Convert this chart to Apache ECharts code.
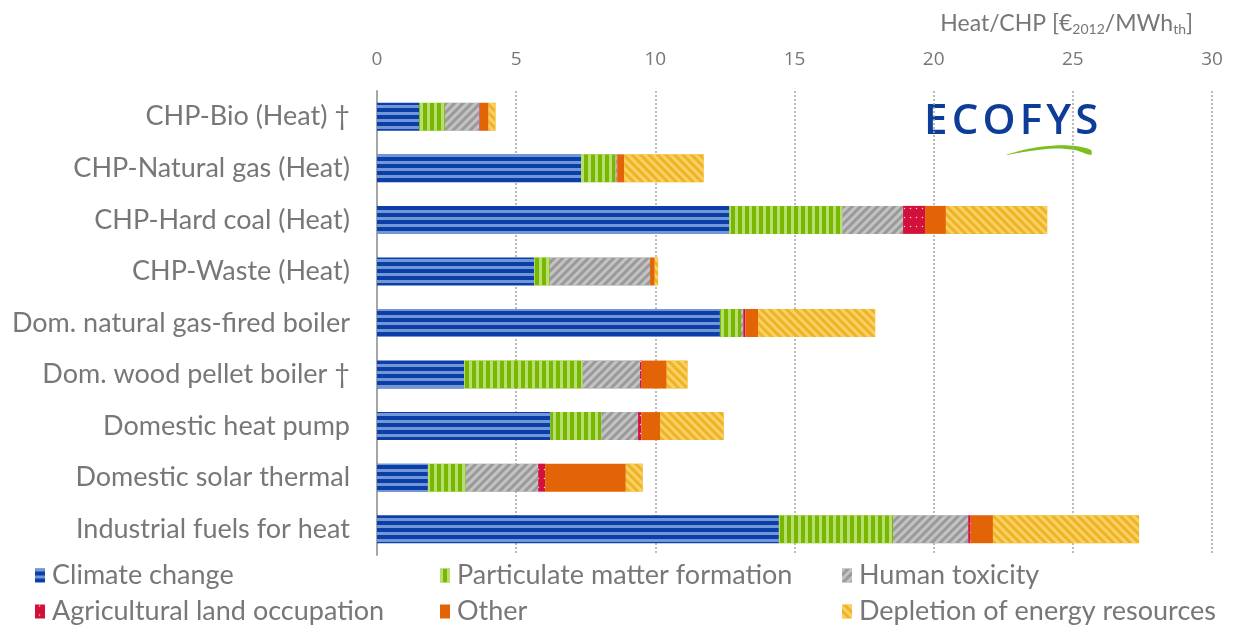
<!DOCTYPE html>
<html><head><meta charset="utf-8">
<script src="https://cdn.jsdelivr.net/npm/echarts@6/dist/echarts.min.js"></script>
<style>html,body{margin:0;padding:0;background:#fff}#c{width:1238px;height:628px}</style>
</head><body><div id="c"></div>
<script>
const categories = ['CHP-Bio (Heat) †','CHP-Natural gas (Heat)','CHP-Hard coal (Heat)','CHP-Waste (Heat)','Dom. natural gas-fired boiler','Dom. wood pellet boiler †','Domestic heat pump','Domestic solar thermal','Industrial fuels for heat'];
const climateChange = [1.51,7.33,12.66,5.65,12.32,3.13,6.23,1.83,14.44];
const particulate   = [0.93,1.24,4.06,0.56,0.76,4.26,1.83,1.36,4.10];
const humanTox      = [1.24,0.05,2.18,3.60,0.08,2.06,1.32,2.60,2.70];
const agriLand      = [0.02,0.01,0.79,0.00,0.08,0.06,0.12,0.25,0.09];
const other         = [0.31,0.25,0.75,0.17,0.45,0.90,0.67,2.90,0.80];
const depletion     = [0.25,2.86,3.64,0.12,4.21,0.75,2.29,0.61,5.25];
const seriesNames = ['Climate change','Particulate matter formation','Human toxicity','Agricultural land occupation','Other','Depletion of energy resources'];
const xTicks = [0,5,10,15,20,25,30];

const FONT = 'Lato';
const TXT = '#777777';
const styles = [
  {color:'#0a3fa8', decal:{symbol:'rect', dashArrayX:[1,0], dashArrayY:[3,4], color:'rgba(150,180,230,0.75)', rotation:0}},
  {color:'#78b800', decal:{symbol:'rect', dashArrayX:[3,4], dashArrayY:[1,0], color:'rgba(200,230,140,0.8)', rotation:0}},
  {color:'#9a9a9a', decal:{symbol:'rect', dashArrayX:[1,0], dashArrayY:[3,3], color:'rgba(200,200,200,0.9)', rotation:-Math.PI/4}},
  {color:'#d2103c', decal:{symbol:'circle', symbolSize:0.5, dashArrayX:[[0,3,3,0]], dashArrayY:[3,6], color:'rgba(255,220,220,0.95)', rotation:0}},
  {color:'#e36406'},
  {color:'#f0b323', decal:{symbol:'rect', dashArrayX:[1,0], dashArrayY:[3,3], color:'rgba(248,212,110,0.9)', rotation:Math.PI/4}}
];
const dataArr = [climateChange, particulate, humanTox, agriLand, other, depletion];

const series = seriesNames.map((n,i)=>({
  name:n, type:'bar', stack:'t', barWidth:28, data:dataArr[i],
  itemStyle:Object.assign({}, styles[i]), emphasis:{disabled:true}
}));

const legendPos = [[30,557],[435,557],[837,557],[30,593],[435,593],[837,593]];
const legends = seriesNames.map((n,i)=>({
  left:legendPos[i][0], top:legendPos[i][1], data:[n], orient:'horizontal',
  itemWidth:10, itemHeight:14, icon:'rect', selectedMode:false,
  textStyle:{fontFamily:FONT, fontSize:27, color:TXT, padding:[0,0,0,2]}
}));

const chart = echarts.init(document.getElementById('c'));
chart.setOption({
  animation:false,
  aria:{enabled:false, decal:{show:false}},
  title:{text:'Heat/CHP [€{sub|2012}/MWh{sub|th}]', right:40, top:7,
    textStyle:{fontFamily:FONT, fontSize:23, fontWeight:'normal', color:TXT,
      rich:{sub:{fontSize:14, fontFamily:FONT, color:TXT, padding:[10,0,0,0]}}}},
  grid:{left:377, right:26, top:91, bottom:73},
  xAxis:{type:'value', position:'top', min:0, max:30, interval:5,
    axisLine:{show:false}, axisTick:{show:false},
    axisLabel:{fontFamily:'Open Sans', fontSize:19, color:TXT, margin:22},
    splitLine:{show:true, lineStyle:{type:[2,2], color:'#a6a6a6', width:1.5}}},
  yAxis:{type:'category', data:categories, inverse:true,
    axisLine:{show:true, lineStyle:{color:'#a6a6a6', width:2}}, axisTick:{show:false},
    axisLabel:{fontFamily:FONT, fontSize:27, color:TXT, margin:27}},
  legend:legends,
  graphic:[
    {type:'text', left:924, top:101, style:{text:'E\u200AC\u200AO\u200AF\u200AY\u200AS', fontFamily:'Open Sans', fontWeight:600, fontSize:42, fill:'#0e3d97'}},
    {type:'polygon', shape:{points:[[1006,155],[1030,148.5],[1055,145.5],[1075,146],[1091,150],[1091,155],[1075,150],[1055,148.5],[1030,151]], smooth:0.3}, style:{fill:'#7bbf1e'}}
  ],
  series:series
});
</script></body></html>
